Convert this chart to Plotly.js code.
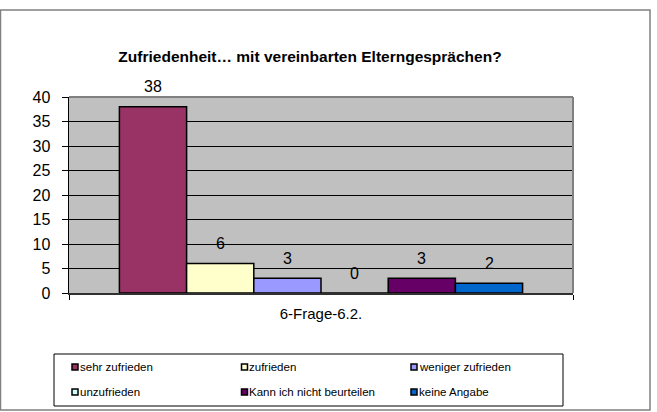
<!DOCTYPE html>
<html><head><meta charset="utf-8">
<script src="https://cdn.plot.ly/plotly-3.0.1.min.js"></script>
<style>html,body{margin:0;padding:0;background:#fff}#chart{width:657px;height:412px}</style>
</head><body><div id="chart"></div>
<script>
const categoryLabel = '6-Frage-6.2.';
const seriesNames = ['sehr zufrieden','zufrieden','weniger zufrieden','unzufrieden','Kann ich nicht beurteilen','keine Angabe'];
const seriesValues = [38, 6, 3, 0, 3, 2];
const seriesColors = ['#993366','#ffffcc','#9999ff','#ccffff','#660066','#0066cc'];
const yTickValues = [0,5,10,15,20,25,30,35,40];
const titleText = 'Zufriedenheit… mit vereinbarten Elterngesprächen?';

const W = 657, H = 412, L = 69, R = 573, T = 97, B = 293;
const pw = R - L, ph = B - T;
const px = x => (x - L) / pw;
const py = y => (B - y) / ph;
const FONT = '"Liberation Sans", Arial, sans-serif';

const bargap = 0.2;
const n = seriesNames.length;
const traces = seriesNames.map((name, i) => ({
  type: 'bar', name: name, x: [categoryLabel], y: [seriesValues[i]],
  marker: {color: seriesColors[i], line: {color: '#000', width: 1.5}},
  showlegend: false, hoverinfo: 'skip'
}));

const bw = (1 - bargap) / n;
const annotations = seriesValues.map((v, i) => ({
  xref: 'x', yref: 'y', x: -(1 - bargap) / 2 + bw * (i + 0.5), y: v,
  yshift: 20, yanchor: 'middle', xanchor: 'center',
  text: String(v), showarrow: false, font: {size: 16, color: '#000', family: FONT}
}));

const shapes = [
  {type: 'rect', xref: 'paper', yref: 'paper', x0: px(0.5), x1: px(650), y0: py(10), y1: py(410),
   line: {color: '#808080', width: 1.5}, layer: 'below'},
  {type: 'line', xref: 'paper', yref: 'paper', x0: 0, x1: 1, y0: 1, y1: 1, line: {color: '#808080', width: 2}},
  {type: 'line', xref: 'paper', yref: 'paper', x0: 1, x1: 1, y0: 0, y1: 1, line: {color: '#808080', width: 2}},
  {type: 'rect', xref: 'paper', yref: 'paper', x0: px(54), x1: px(563), y0: py(354), y1: py(406),
   line: {color: '#000', width: 1}}
];

seriesNames.forEach((name, i) => {
  const col = i % 3, row = Math.floor(i / 3);
  const cx = 75 + col * 169.5, cy = 367 + row * 25;
  shapes.push({type: 'rect', xref: 'paper', yref: 'paper',
    x0: px(cx - 3), x1: px(cx + 3), y0: py(cy - 3), y1: py(cy + 3),
    fillcolor: seriesColors[i], line: {color: '#000', width: 1.5}});
  annotations.push({xref: 'paper', yref: 'paper', x: px(cx + 2.5), y: py(cy),
    xanchor: 'left', yanchor: 'middle', showarrow: false, text: name,
    font: {size: 11.5, color: '#000', family: FONT}});
});

const layout = {
  width: W, height: H,
  margin: {l: L, r: W - R, t: T, b: H - B, pad: 0},
  paper_bgcolor: '#fff', plot_bgcolor: '#c0c0c0',
  font: {family: FONT, color: '#000'},
  title: {text: '<b>' + titleText + '</b>', font: {size: 15.5, family: FONT, color: '#000'},
    x: 310 / W, xanchor: 'center', y: 1 - 57 / H, yanchor: 'middle', xref: 'container', yref: 'container'},
  barmode: 'group', bargap: bargap, bargroupgap: 0,
  showlegend: false,
  xaxis: {type: 'category', showline: true, linecolor: '#303030', linewidth: 1.5,
    ticks: 'outside', tickson: 'boundaries', ticklen: 5, tickcolor: '#000',
    tickfont: {size: 15, family: FONT}, ticklabelstandoff: 6, showgrid: false, fixedrange: true},
  yaxis: {range: [0, 40], tickvals: yTickValues, ticktext: yTickValues.map(String),
    showline: true, linecolor: '#000', linewidth: 1.5, ticks: 'outside', ticklen: 6, tickcolor: '#000',
    showgrid: true, gridcolor: '#000', gridwidth: 1, zeroline: false,
    tickfont: {size: 16, family: FONT}, ticklabelstandoff: 8, fixedrange: true},
  shapes: shapes, annotations: annotations
};

Plotly.newPlot('chart', traces, layout, {staticPlot: true, displayModeBar: false});
</script>
</body></html>
